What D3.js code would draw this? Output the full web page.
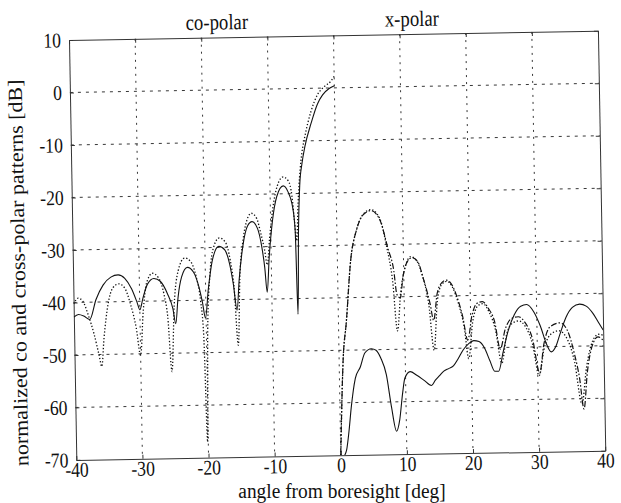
<!DOCTYPE html>
<html>
<head>
  <meta charset="utf-8">
  <title>co-polar / x-polar patterns</title>
  <style>
    body { margin: 0; background: #fff; }
    text { font-family: 'Liberation Serif', 'Times New Roman', Times, serif; fill: #111; }
  </style>
</head>
<body>
<script src="https://d3js.org/d3.v7.min.js"></script>
<script>
  var width = 621;
  var height = 503;

  var xTicks = [-40, -30, -20, -10, 0, 10, 20, 30, 40];
  var yTicks = [10, 0, -10, -20, -30, -40, -50, -60, -70];
  var titles = ['co-polar', 'x-polar'];

  // co-polar, measured (solid) - [deg, dB]
  var coSolid = [
    [-40, -42.8], [-39.3, -42.3], [-38.5, -42.6], [-37.6, -43.3], [-36.6, -39.5], [-35.5, -36.8],
    [-34.3, -35.3], [-33.2, -34.9], [-32.2, -35.6], [-31.2, -37.6], [-30.4, -40.2], [-30.0, -41.6],
    [-29.5, -39.4], [-28.8, -36.8], [-27.8, -35.7], [-26.8, -36.3], [-25.8, -38.6], [-25.0, -41.5],
    [-24.6, -44.4], [-24.2, -39.5], [-23.6, -35.5], [-22.7, -33.7], [-21.8, -34.6], [-21.0, -37.5],
    [-20.5, -40.5], [-20.1, -43.4], [-19.6, -38], [-18.9, -32.4], [-17.9, -29.8], [-17.0, -30.5],
    [-16.3, -33.2], [-15.8, -37], [-15.3, -42], [-14.9, -36.2], [-14.2, -29.4], [-13.5, -26],
    [-12.8, -25.2], [-12.0, -26.5], [-11.4, -30], [-11.0, -34], [-10.7, -38.7], [-10.3, -32],
    [-9.7, -25], [-9.0, -20.5], [-8.0, -18.5], [-7.3, -19.6], [-6.6, -22.8], [-6.3, -27.2],
    [-6.1, -43], [-5.8, -27], [-5.5, -18.5], [-5.1, -14.3], [-4.6, -11], [-3.6, -6.6],
    [-2.6, -3], [-1.8, -1.3], [-0.8, -0.1], [0, 0.4]
  ];

  // co-polar, computed (dotted)
  var coDotted = [
    [-40, -40.3], [-39.3, -39.2], [-38.6, -39.8], [-37.8, -42.5], [-37.0, -46], [-36.3, -50],
    [-35.9, -52.3], [-35.5, -47], [-34.8, -40.5], [-34.0, -37.3], [-33.1, -36.6], [-32.2, -37.5],
    [-31.4, -40.5], [-30.6, -45], [-30.0, -50.3], [-29.5, -42], [-28.9, -36.5], [-28.0, -34.7],
    [-27.1, -35.6], [-26.3, -38.8], [-25.8, -43], [-25.3, -53.5], [-24.8, -41], [-24.1, -34.3],
    [-23.1, -31.9], [-22.2, -32.6], [-21.4, -35.5], [-20.8, -40], [-20.4, -47], [-20.1, -67],
    [-19.8, -46], [-19.3, -35], [-18.7, -30], [-17.8, -28.2], [-16.9, -29], [-16.2, -32.5],
    [-15.7, -37.5], [-15.2, -48.7], [-14.8, -36], [-14.2, -28.6], [-13.6, -25], [-12.9, -23.6],
    [-12.1, -24.6], [-11.5, -27.5], [-11.0, -30.5], [-10.6, -33.5], [-10.2, -28.5], [-9.6, -22.5],
    [-8.9, -18.5], [-8.0, -16.8], [-7.2, -17.6], [-6.7, -20.5], [-6.4, -25], [-6.1, -29],
    [-5.8, -22], [-5.4, -15.5], [-5.1, -12.4], [-4.6, -9.2], [-3.6, -4.4], [-2.6, -1.3],
    [-1.5, 0.3], [-0.5, 1.3], [0, 2.2]
  ];

  // x-polar, upper (dash-dot)
  var xpDashDot = [
    [0.0, -70], [0.3, -60], [0.6, -52], [1.2, -44.5], [2.0, -33], [3.0, -27], [4.0, -24.3],
    [5.2, -23.5], [6.5, -25.2], [7.7, -30.9], [8.5, -35], [8.9, -39.5], [9.4, -40.2], [9.9, -36],
    [10.5, -33.5], [11.3, -32.6], [12.2, -33.5], [12.9, -36.4], [13.9, -41.4], [14.4, -44.6],
    [15.0, -39.5], [15.7, -37.5], [16.4, -37], [17.1, -37.6], [17.8, -39.5], [18.8, -44],
    [19.5, -48.5], [20.2, -43.8], [21.0, -41.5], [21.8, -41.2], [22.7, -42.5], [23.6, -45],
    [24.4, -50.3], [25.2, -46.5], [26.2, -44.5], [27.2, -44.2], [28.2, -45.3], [29.3, -48.5],
    [30.3, -55], [31.0, -49.5], [32.0, -46.2], [33.5, -45.5], [34.6, -47], [35.6, -51.5],
    [36.3, -56], [36.9, -62], [37.5, -55], [38.3, -50], [39.2, -48.3], [40, -49]
  ];

  // x-polar, upper (dotted)
  var xpDotted = [
    [0.0, -70], [0.3, -60], [0.6, -52], [1.2, -44.5], [2.0, -33], [3.0, -27], [4.0, -24.2],
    [5.2, -23.3], [6.5, -25], [7.5, -30.5], [8.3, -37], [8.9, -46.5], [9.5, -39], [10.2, -34.5],
    [11.1, -32.4], [12.0, -33.2], [12.8, -36], [13.7, -41.5], [14.4, -50.3], [15.0, -41],
    [15.7, -37.8], [16.5, -37.2], [17.3, -38.3], [18.2, -41.5], [19.0, -46], [19.6, -52],
    [20.3, -45], [21.1, -42], [21.9, -41.6], [22.8, -43.2], [23.7, -46.5], [24.6, -53],
    [25.4, -47.5], [26.4, -45.3], [27.3, -45], [28.3, -46.2], [29.3, -49.5], [30.2, -55.5],
    [31.0, -50.5], [32.2, -47.5], [33.3, -47], [34.5, -48.5], [35.6, -53], [36.6, -61],
    [37.4, -54], [38.4, -49], [39.3, -47.8], [40, -48]
  ];

  // x-polar, lower (solid)
  var xpSolid = [
    [0.6, -70], [0.9, -69], [1.3, -65.5], [1.7, -61], [2.4, -55.4], [3.2, -53.2], [3.9, -50.6],
    [4.9, -49.8], [5.6, -50.1], [6.3, -51.6], [7.1, -54.8], [7.8, -61], [8.5, -65.6], [9.0, -63.5],
    [9.5, -58.5], [9.9, -55.5], [10.7, -54.3], [11.7, -55], [12.8, -56], [13.9, -57], [14.5, -56],
    [15.1, -55.2], [15.8, -54.3], [16.6, -53.8], [17.3, -53.3], [18.0, -52], [18.8, -50.3],
    [19.6, -49.2], [20.4, -48.6], [21.2, -48.8], [22.0, -50], [22.8, -52.5], [23.5, -54.5],
    [24.1, -54.5], [24.8, -51], [25.6, -47], [26.6, -43.8], [27.6, -42.2], [28.5, -41.9],
    [29.5, -43.2], [30.5, -46], [31.4, -49.5], [32.1, -51], [32.8, -50], [33.5, -47.5],
    [34.4, -44.5], [35.4, -42.6], [36.5, -42], [37.5, -42.4], [38.5, -43.8], [39.3, -45.5], [40, -47]
  ];

  var plotW = 529;
  var plotH = 420;

  var svg = d3.select('body')
    .append('svg')
      .attr('width', width)
      .attr('height', height)
      .style('background', '#fff');

  // the scanned figure sits a little crooked on the page
  var g = svg.append('g')
    .attr('transform', 'translate(69,40) rotate(-1)');

  var x = d3.scaleLinear().domain([-40, 40]).range([0, plotW]);
  var y = d3.scaleLinear().domain([-70, 10]).range([plotH, 0]);

  // scan is stretched vertically, so squeeze the glyphs sideways
  var squeeze = function(sel, k) {
    sel.each(function() {
      var w = this.getComputedTextLength();
      d3.select(this)
        .attr('textLength', w * k)
        .attr('lengthAdjust', 'spacingAndGlyphs');
    });
  };

  g.append('clipPath').attr('id', 'clip')
    .append('rect').attr('width', plotW).attr('height', plotH);

  // dotted grid
  g.selectAll('.vgrid')
    .data(xTicks.slice(1, -1))
    .enter().append('line')
      .attr('x1', function(d) { return x(d); })
      .attr('x2', function(d) { return x(d); })
      .attr('y1', 0)
      .attr('y2', plotH)
      .attr('stroke', '#222')
      .attr('stroke-width', 0.9)
      .attr('stroke-dasharray', '2,5');

  g.selectAll('.hgrid')
    .data(yTicks.slice(1, -1))
    .enter().append('line')
      .attr('x1', 0)
      .attr('x2', plotW)
      .attr('y1', function(d) { return y(d); })
      .attr('y2', function(d) { return y(d); })
      .attr('stroke', '#222')
      .attr('stroke-width', 0.9)
      .attr('stroke-dasharray', '3,5');

  var fmt = function(d) { return String(d); };

  var styleAxis = function(sel) {
    sel.attr('font-family', null).attr('font-size', 21);
    sel.selectAll('path').attr('stroke', '#333');
    sel.selectAll('line').attr('stroke', '#333');
    sel.selectAll('text').attr('fill', '#111').call(squeeze, 0.84);
  };

  g.append('g')
    .attr('transform', 'translate(0,' + plotH + ')')
    .call(d3.axisBottom(x).tickValues(xTicks).tickFormat(fmt).tickSize(-4).tickSizeOuter(0).tickPadding(2))
    .call(styleAxis);

  g.append('g')
    .call(d3.axisLeft(y).tickValues(yTicks).tickFormat(fmt).tickSize(-4).tickSizeOuter(0).tickPadding(8))
    .call(styleAxis);

  g.append('g')
    .call(d3.axisTop(x).tickValues(xTicks).tickFormat('').tickSize(-4).tickSizeOuter(0))
    .call(styleAxis);

  g.append('g')
    .attr('transform', 'translate(' + plotW + ',0)')
    .call(d3.axisRight(y).tickValues(yTicks).tickFormat('').tickSize(-4).tickSizeOuter(0))
    .call(styleAxis);

  var line = d3.line()
    .x(function(d) { return x(d[0]); })
    .y(function(d) { return y(d[1]); })
    .curve(d3.curveMonotoneX);

  var series = [
    { data: coDotted, dash: '1.3,2', w: 1.3 },
    { data: xpDotted, dash: '1.3,2', w: 1.3 },
    { data: xpDashDot, dash: '6,2,1.5,2', w: 1.2 },
    { data: coSolid, dash: null, w: 1.1 },
    { data: xpSolid, dash: null, w: 1.1 }
  ];

  g.append('g')
    .attr('clip-path', 'url(#clip)')
    .selectAll('path')
    .data(series)
    .enter().append('path')
      .attr('d', function(d) { return line(d.data); })
      .attr('fill', 'none')
      .attr('stroke', '#111')
      .attr('stroke-width', function(d) { return d.w; })
      .attr('stroke-dasharray', function(d) { return d.dash; });

  // labels over the two halves
  g.selectAll('.title')
    .data(titles)
    .enter().append('text')
      .attr('x', function(d, i) { return i === 0 ? x(-17.6) : x(11.9); })
      .attr('y', -8)
      .attr('text-anchor', 'middle')
      .attr('font-size', 22)
      .text(function(d) { return d; })
      .call(squeeze, 0.85);

  // x label kept level so it clears the tick labels
  svg.append('text')
    .attr('x', 342)
    .attr('y', 498)
    .attr('text-anchor', 'middle')
    .attr('font-size', 20)
    .text('angle from boresight [deg]')
    .call(squeeze, 0.97);

  g.append('text')
    .attr('transform', 'translate(-48,' + (plotH / 2 + 22) + ') rotate(-90)')
    .attr('text-anchor', 'middle')
    .attr('font-size', 20)
    .text('normalized co and cross-polar patterns [dB]')
    .call(squeeze, 1.1);
</script>
</body>
</html>
